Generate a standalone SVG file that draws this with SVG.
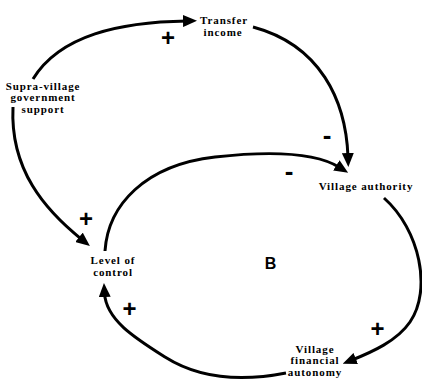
<svg xmlns="http://www.w3.org/2000/svg" width="422" height="381" viewBox="0 0 422 381">
<style>
.node{font-family:"Liberation Serif","Times New Roman",serif;font-weight:bold;font-size:11px;letter-spacing:0.9px;fill:#000;text-anchor:middle}
.link{fill:none;stroke:#000;stroke-width:3;marker-end:url(#ah)}
.pol{font-family:"Liberation Sans",Arial,sans-serif;font-weight:bold;fill:#000;text-anchor:middle}
.plus{font-size:24px}
.minus{font-size:26px}
.loop{font-family:"Liberation Sans",Arial,sans-serif;font-weight:bold;font-size:16px;fill:#000;text-anchor:middle}
</style>
<defs>
<marker id="ah" markerUnits="userSpaceOnUse" markerWidth="14" markerHeight="12" refX="4" refY="6" orient="auto">
<path d="M0,0 L14,6 L0,12 z" fill="#000"/>
</marker>
</defs>
<rect width="422" height="381" fill="#fff"/>
<g id="connectors">
<path class="link" d="M33,79 C60,35 120,22 187,21"/>
<path class="link" d="M13,107 C10,170 45,210 82.1,239.8"/>
<path class="link" d="M253,27 C320,45 346,100 348,157"/>
<path class="link" d="M105,251 C108,205 145,165 215,157 C260,152 312,150 339.7,167.5"/>
<path class="link" d="M384,198 C420,230 432,290 410,322 C397,341 372,352 352,360"/>
<path class="link" d="M286,373 C235,383 195,376 165,357 C135,338 106,320 104.5,293"/>
</g>
<g id="polarities">
<text class="pol plus" x="168" y="46">+</text>
<text class="pol plus" x="86" y="227">+</text>
<text class="pol plus" x="129.5" y="316.5">+</text>
<text class="pol plus" x="377.5" y="337">+</text>
<text class="pol minus" x="327" y="143.5">-</text>
<text class="pol minus" x="289" y="180">-</text>
</g>
<g id="supra-village-government-support">
<text class="node" x="43" y="89.5">Supra-village</text>
<text class="node" x="43" y="101">government</text>
<text class="node" x="43" y="112.5">support</text>
</g>
<g id="transfer-income">
<text class="node" x="224" y="23.5">Transfer</text>
<text class="node" x="223" y="35.5">income</text>
</g>
<g id="village-authority">
<text class="node" x="366" y="190">Village authority</text>
</g>
<g id="level-of-control">
<text class="node" x="113" y="264">Level of</text>
<text class="node" x="113" y="276">control</text>
</g>
<g id="village-financial-autonomy">
<text class="node" x="315" y="352.5">Village</text>
<text class="node" x="315" y="364">financial</text>
<text class="node" x="315" y="375.5">autonomy</text>
</g>
<g id="loop-label">
<text class="loop" x="270.5" y="269">B</text>
</g>
</svg>
